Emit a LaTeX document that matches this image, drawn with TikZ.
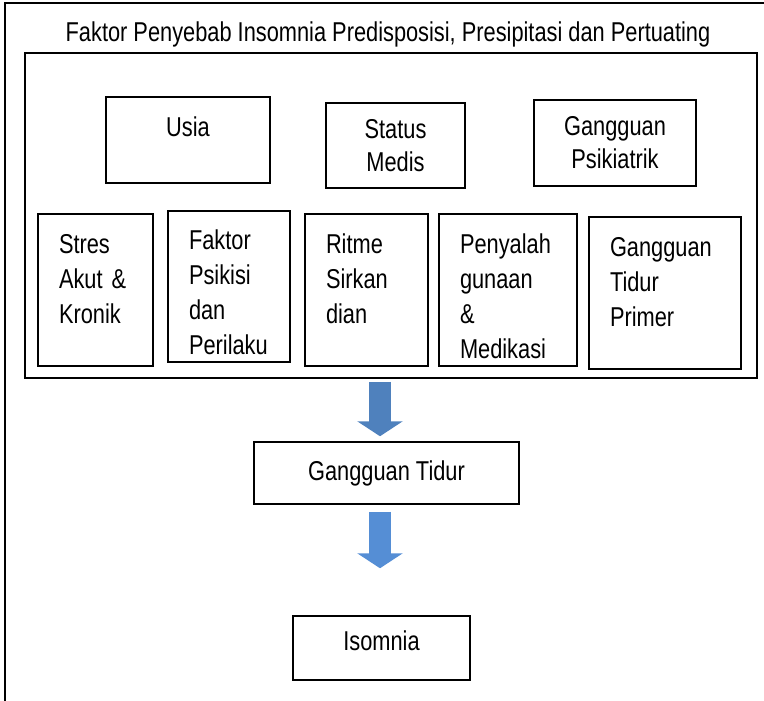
\documentclass[tikz,border=0pt]{standalone}
\usepackage{fontspec}
\setmainfont{Liberation Sans}[FakeStretch=0.8]
\usetikzlibrary{arrows.meta, positioning}
\definecolor{birutua}{RGB}{79,129,189}
\definecolor{birumuda}{RGB}{85,142,213}

\begin{document}
\begin{tikzpicture}[x=1pt, y=-1pt,
    font=\fontsize{27.25}{33}\selectfont,
    kotak/.style={rectangle, draw, line width=1.5pt, inner sep=0pt, align=center},
    kotakkiri/.style={kotak, align=left, inner xsep=21pt, font=\fontsize{27.25}{35}\selectfont,
        execute at begin node={\rule{0pt}{32pt}}},
    panah/.style={line width=22pt, -{Triangle[width=45pt, length=15pt]}}]

    \useasboundingbox (0,0) rectangle (764,701);
    \clip (0,0) rectangle (764,701);
    \draw[line width=1.5pt] (5,3) rectangle (800,740);

    \node (judul) at (388,34) {Faktor Penyebab Insomnia Predisposisi, Presipitasi dan Pertuating};
    \node[kotak, minimum width=732pt, minimum height=325pt] (bingkai) at (391,215.5) {};

    \node[kotak, minimum width=164pt, minimum height=86pt] (usia) at (188,140) {Usia\\[-6pt]~};
    \node[kotak, minimum width=139pt, minimum height=85pt] (medis) at (395.5,145.5) {Status\\Medis};
    \node[kotak, minimum width=162pt, minimum height=86pt] (psikiatrik) at (615,143) {Gangguan\\Psikiatrik};

    \node[kotakkiri, text width=73pt, minimum height=152pt] (stres) at (95.5,290) {Stres\\Akut \&\\Kronik\\~};
    \node[kotakkiri, text width=80pt, minimum height=151pt] (psikisi) at (229,286.5) {Faktor\\Psikisi\\dan\\Perilaku};
    \node[kotakkiri, text width=81pt, minimum height=152pt] (ritme) at (366.5,290) {Ritme\\Sirkan\\dian\\~};
    \node[kotakkiri, text width=96pt, minimum height=152pt] (penyalah) at (508,290) {Penyalah\\gunaan\\\&\\Medikasi};
    \node[kotakkiri, text width=110pt, minimum height=152pt] (primer) at (665,293) {Gangguan\\Tidur\\Primer\\~};

    \node[kotak, minimum width=265pt, minimum height=62pt] (gangguan) at (386.5,473) {Gangguan Tidur};
    \node[kotak, minimum width=177pt, minimum height=64pt] (isomnia) at (381.5,648) {\raisebox{4pt}[0.7em][0.2em]{Isomnia}};

    \coordinate (sumbu) at (380,0);
    \draw[panah, draw=birutua, shorten <=3pt, shorten >=5pt] (bingkai.south -| sumbu) -- (gangguan.north -| sumbu);
    \draw[panah, draw=birumuda, shorten <=7pt, shorten >=47pt] (gangguan.south -| sumbu) -- (isomnia.north -| sumbu);
\end{tikzpicture}
\end{document}
